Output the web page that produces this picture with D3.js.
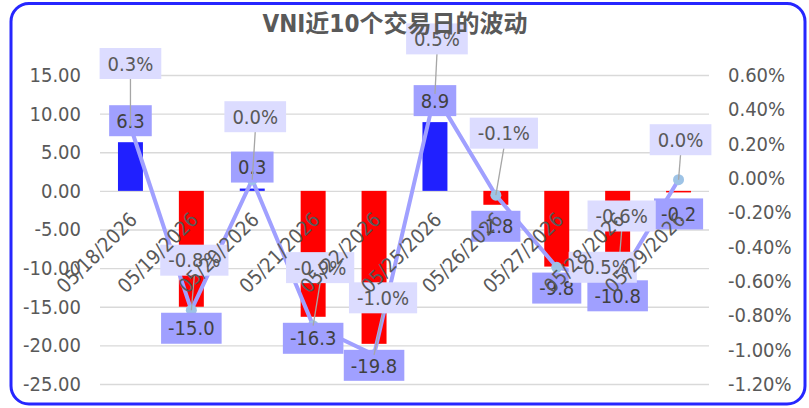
<!DOCTYPE html>
<html><head><meta charset="utf-8">
<script src="https://cdn.jsdelivr.net/npm/d3@7"></script>
<style>
html,body{margin:0;padding:0;background:#fff;}
svg{display:block;}
</style>
</head><body>
<svg id="chart" width="809" height="408"></svg>
<script>
// ---- data ----
const title = "VNI近10个交易日的波动";
const dates = ["05/18/2026","05/19/2026","05/20/2026","05/21/2026","05/22/2026","05/25/2026","05/26/2026","05/27/2026","05/28/2026","05/29/2026"];
const changePoints = [6.3, -15.0, 0.3, -16.3, -19.8, 8.9, -1.8, -9.8, -10.8, -0.2];
const changePercent = [0.30, -0.77, -0.01, -0.86, -1.03, 0.49, -0.10, -0.52, -0.60, -0.01];
const leftTicks = [15, 10, 5, 0, -5, -10, -15, -20, -25];
const rightTicks = [0.6, 0.4, 0.2, 0.0, -0.2, -0.4, -0.6, -0.8, -1.0, -1.2];

// ---- layout (callout offsets of percent labels, px) ----
const pctLabelOffset = [[0,-63],[3,-50],[3,-63],[7,-58],[9,-57],[2,-55],[8,-62],[46,0],[4,-65],[2,-40]];
const pctLeader = [true,true,true,true,true,true,true,false,true,true];

const FONT = "'DejaVu Sans Condensed','DejaVu Sans','Noto Sans CJK SC',sans-serif";
const svg = d3.select("#chart");
const plot = {left: 100, right: 709, top: 75, bottom: 384};

const x = d3.scaleBand().domain(dates).range([plot.left, plot.right]).paddingInner(0.59).paddingOuter(0.295);
const yL = d3.scaleLinear().domain([-25, 15]).range([plot.bottom, plot.top]);
const yR = d3.scaleLinear().domain([-1.2, 0.6]).range([plot.bottom, plot.top]);
const cx = d => x(d) + x.bandwidth() / 2;

const fmt1 = v => { let s = v.toFixed(1); if (s === "-0.0") s = "0.0"; return s; };
const fmt2 = v => v.toFixed(2);

// border
svg.append("rect").attr("x", 11).attr("y", 3.5).attr("width", 794).attr("height", 400.5)
  .attr("rx", 18).attr("ry", 18).attr("fill", "#fff").attr("stroke", "#2626ff").attr("stroke-width", 3);

// gridlines + left axis
const gL = svg.append("g").attr("transform", `translate(${plot.left},0)`)
  .call(d3.axisLeft(yL).tickValues(leftTicks).tickSize(-(plot.right - plot.left)).tickPadding(19).tickFormat(fmt2));
gL.select(".domain").remove();
gL.selectAll(".tick line").attr("stroke", "#d9d9d9").attr("stroke-width", 1.3);
gL.selectAll(".tick text").attr("font-family", FONT).attr("font-size", 20).attr("fill", "#595959");

// right axis
const gR = svg.append("g").attr("transform", `translate(${plot.right},0)`)
  .call(d3.axisRight(yR).tickValues(rightTicks).tickSize(0).tickPadding(19).tickFormat(d => fmt2(d) + "%"));
gR.select(".domain").remove();
gR.selectAll(".tick text").attr("font-family", FONT).attr("font-size", 20).attr("fill", "#595959");

// bars
svg.append("g").selectAll("rect").data(dates).join("rect")
  .attr("x", d => x(d))
  .attr("width", x.bandwidth())
  .attr("y", (d, i) => yL(Math.max(0, changePoints[i])))
  .attr("height", (d, i) => Math.abs(yL(changePoints[i]) - yL(0)))
  .attr("fill", (d, i) => changePoints[i] >= 0 ? "#2020ff" : "#ff0000");

// line
const line = d3.line().x((d, i) => cx(dates[i])).y(d => yR(d));
svg.append("path").datum(changePercent).attr("d", line)
  .attr("fill", "none").attr("stroke", "#a0a0ff").attr("stroke-width", 4).attr("stroke-linejoin", "round");
svg.append("g").selectAll("circle").data(changePercent).join("circle")
  .attr("cx", (d, i) => cx(dates[i])).attr("cy", d => yR(d)).attr("r", 5.5).attr("fill", "#9dc3e6");

// bar value labels
const gB = svg.append("g");
dates.forEach((d, i) => {
  const v = changePoints[i];
  const yc = v >= 0 ? yL(v) - 21.5 : yL(v) + 21.5;
  const g = gB.append("g");
  const rect = g.append("rect").attr("fill", "#a0a0ff");
  const t = g.append("text").attr("x", cx(d)).attr("y", yc).attr("dy", "0.36em").attr("text-anchor", "middle")
    .attr("font-family", FONT).attr("font-size", 20).attr("fill", "#404040").text(fmt1(v));
  const w = t.node().getComputedTextLength() + 14;
  rect.attr("x", cx(d) - w / 2).attr("y", yc - 15.5).attr("width", w).attr("height", 31);
});

// percent labels with leaders
const gP = svg.append("g");
dates.forEach((d, i) => {
  const px = cx(d), py = yR(changePercent[i]);
  const lx = px + pctLabelOffset[i][0], ly = py + pctLabelOffset[i][1];
  if (pctLeader[i]) {
    gP.append("line").attr("x1", lx).attr("y1", ly + 15).attr("x2", px).attr("y2", py)
      .attr("stroke", "#a6a6a6").attr("stroke-width", 1.3);
  }
});
dates.forEach((d, i) => {
  const px = cx(d), py = yR(changePercent[i]);
  const lx = px + pctLabelOffset[i][0], ly = py + pctLabelOffset[i][1];
  const g = gP.append("g");
  const rect = g.append("rect").attr("fill", "#dcdcff");
  const t = g.append("text").attr("x", lx).attr("y", ly).attr("dy", "0.36em").attr("text-anchor", "middle")
    .attr("font-family", FONT).attr("font-size", 20).attr("fill", "#595959").text(fmt1(changePercent[i]) + "%");
  const w = t.node().getComputedTextLength() + 16;
  rect.attr("x", lx - w / 2).attr("y", ly - 15.5).attr("width", w).attr("height", 31);
});

// category labels (rotated)
svg.append("g").selectAll("text").data(dates).join("text")
  .attr("transform", d => `translate(${cx(d) + 8},${yL(0) + 30}) rotate(-45)`)
  .attr("text-anchor", "end").attr("font-family", FONT).attr("font-size", 20).attr("fill", "#595959")
  .text(d => d);

// title (on top)
svg.append("text").attr("x", 395).attr("y", 32).attr("text-anchor", "middle")
  .attr("font-family", FONT).attr("font-weight", "bold").attr("font-size", 24).attr("fill", "#595959")
  .text(title);
</script>
</body></html>
